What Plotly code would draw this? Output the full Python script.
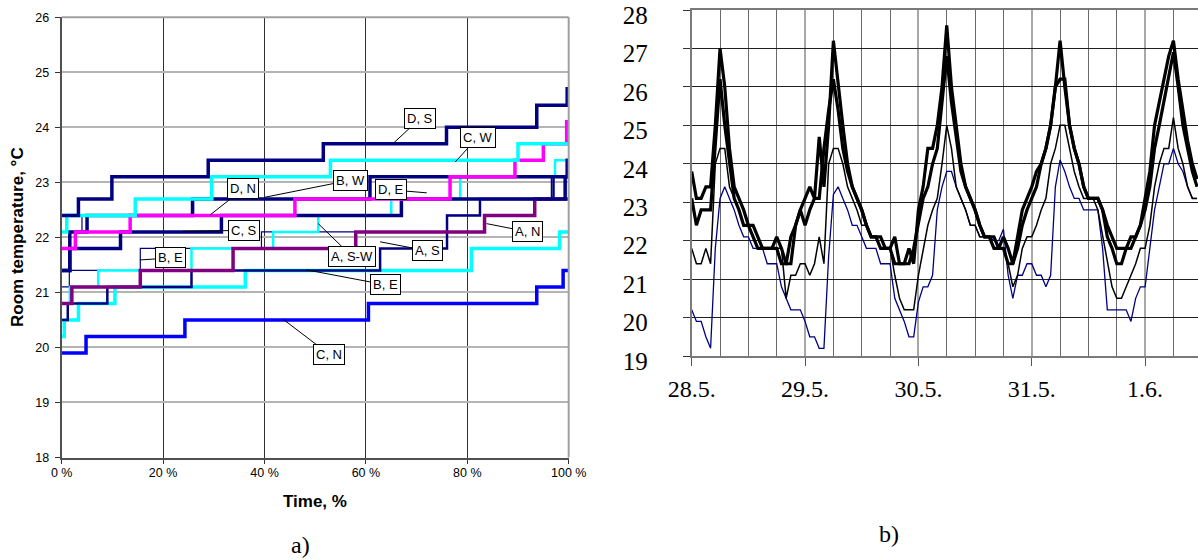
import plotly.graph_objects as go

W, H = 1198, 560

# ---------------- panel a) duration curves ----------------
pct_ticks = [0, 20, 40, 60, 80, 100]
pct_labels = ["0 %", "20 %", "40 %", "60 %", "80 %", "100 %"]
temp_ticks_a = [18, 19, 20, 21, 22, 23, 24, 25, 26]

DS_x = [0, 3.3, 9.9, 28.9, 51.6, 75.9, 93.7, 99.7, 100]
DS_y = [22.4, 22.7, 23.1, 23.4, 23.7, 24.0, 24.4, 24.7, 24.7]
CW_x = [0, 1.0, 14.5, 29.6, 53.0, 90.0, 100]
CW_y = [22.1, 22.4, 22.7, 23.1, 23.4, 23.7, 23.7]
DN_x = [0, 2.7, 13.5, 46.0, 76.6, 89.4, 95.0, 99.6, 100]
DN_y = [21.8, 22.1, 22.4, 22.7, 23.1, 23.4, 23.7, 24.1, 24.1]
DE_x = [0, 1.6, 5.0, 25.8, 60.8, 99.7, 100]
DE_y = [21.4, 22.1, 22.4, 22.7, 23.1, 23.4, 23.4]
CS_x = [0, 1.6, 11.6, 31.5, 67.0, 99.3, 100]
CS_y = [21.4, 21.8, 22.1, 22.4, 22.7, 23.1, 23.1]
AN_x = [0, 2.0, 15.5, 33.8, 58.0, 83.4, 93.3, 100]
AN_y = [20.8, 21.1, 21.4, 21.8, 22.1, 22.4, 22.7, 22.7]
BE2_x = [0, 0.5, 3.3, 10.5, 36.2, 80.8, 98.2, 100]
BE2_y = [20.2, 20.5, 20.8, 21.1, 21.4, 21.8, 22.1, 22.1]
ASW_x = [0, 1.6, 7.2, 25.6, 41.7, 50.6, 65.0, 78.6, 97.3, 100]
ASW_y = [20.8, 21.1, 21.4, 21.8, 22.1, 22.4, 22.7, 23.1, 23.4, 23.4]
CN_x = [0, 4.8, 24.3, 60.5, 93.7, 98.9, 100]
CN_y = [19.9, 20.2, 20.5, 20.8, 21.1, 21.4, 21.4]
BE1_x = [0, 1.5, 15.5, 39.4, 76.0, 82.5, 96.6, 100]
BE1_y = [21.1, 21.4, 21.8, 22.1, 22.4, 22.7, 23.1, 23.1]
AS_x = [0, 1.2, 9.0, 25.6, 62.8, 76.0, 82.5, 97.0, 100]
AS_y = [20.5, 20.8, 21.1, 21.4, 21.8, 22.4, 22.7, 23.1, 23.1]
BW_x = [0, 1.5, 4.0, 26.0, 61.0, 96.6, 100]
BW_y = [22.1, 22.1, 22.4, 22.7, 22.7, 23.1, 23.1]

series_a = [
    ("C, N", CN_x, CN_y, "#0000FF", 3.5),
    ("B, E", BE2_x, BE2_y, "#00FFFF", 3.5),
    ("A, S", AS_x, AS_y, "#000080", 2.5),
    ("B, E", BE1_x, BE1_y, "#000080", 1.2),
    ("A, S-W", ASW_x, ASW_y, "#00FFFF", 2.5),
    ("A, N", AN_x, AN_y, "#800080", 3.5),
    ("B, W", BW_x, BW_y, "#000080", 1.2),
    ("C, S", CS_x, CS_y, "#000080", 3.5),
    ("D, E", DE_x, DE_y, "#000080", 3.5),
    ("D, N", DN_x, DN_y, "#FF00FF", 3.5),
    ("C, W", CW_x, CW_y, "#00FFFF", 3.5),
    ("D, S", DS_x, DS_y, "#000080", 3.5),
]

# callouts: label, pointed position (% , degC), label offset (px)
callouts = [
    ("D, S", 65.4, 23.71, 27, -25),
    ("C, W", 77.6, 23.37, 23, -25),
    ("D, N", 29.3, 22.41, 33, -26),
    ("B, W", 40.1, 22.73, 85, -17),
    ("D, E", 72.0, 22.81, -36, -3),
    ("C, S", 23.9, 22.11, 61, -1),
    ("A, N", 83.8, 22.25, 41, 8),
    ("A, S", 62.8, 21.92, 47, 9),
    ("A, S-W", 50.6, 22.25, 34, 33),
    ("B, E", 15.4, 21.59, 31, -2),
    ("B, E", 48.3, 21.41, 79, 15),
    ("C, N", 43.7, 20.51, 46, 35),
]

# ---------------- panel b) time series ----------------
day_ticks = [0, 24, 48, 72, 96]
day_labels = ["28.5.", "29.5.", "30.5.", "31.5.", "1.6."]
temp_ticks_b = [19, 20, 21, 22, 23, 24, 25, 26, 27, 28]
hours = list(range(108))

thick_1 = [23.8, 23.1, 23.1, 23.4, 23.4, 25.0, 27.0, 26.0, 24.4, 23.4,
           23.1, 22.8, 22.4, 22.4, 22.1, 21.8, 21.8, 21.8, 22.1, 21.8,
           21.4, 21.4, 22.4, 22.8, 23.1, 23.4, 23.1, 24.7, 23.4, 25.0,
           27.2, 26.0, 25.0, 24.0, 23.4, 23.1, 22.8, 22.4, 22.1, 22.1,
           22.1, 21.8, 21.8, 22.1, 21.4, 21.4, 21.8, 21.4, 22.8, 23.4,
           24.4, 24.4, 25.0, 26.0, 27.6, 26.0, 25.0, 24.0, 23.4, 23.1,
           22.8, 22.4, 22.1, 22.1, 21.8, 21.8, 22.1, 21.8, 21.4, 22.1,
           22.8, 23.1, 23.4, 23.8, 24.0, 24.4, 25.0, 26.0, 27.2, 26.0,
           25.0, 24.4, 24.0, 23.4, 23.1, 23.1, 23.1, 22.8, 22.1, 21.8,
           21.4, 21.4, 21.8, 21.8, 22.1, 22.4, 23.1, 23.8, 25.0, 25.6,
           26.2, 26.8, 27.2, 26.2, 25.4, 24.6, 24.0, 23.6]
thick_2 = [23.1, 22.4, 22.8, 22.8, 22.8, 24.5, 26.2, 25.0, 24.0, 23.1,
           22.8, 22.4, 22.4, 22.1, 21.8, 21.8, 21.8, 21.8, 21.8, 21.4,
           21.4, 22.1, 22.4, 22.8, 22.4, 22.8, 23.1, 23.1, 24.4, 25.4,
           26.2, 25.4, 24.4, 23.8, 23.4, 23.1, 22.8, 22.4, 22.1, 22.1,
           21.8, 21.8, 21.8, 21.4, 21.4, 21.4, 21.4, 21.8, 22.4, 23.1,
           23.4, 24.0, 24.4, 25.6, 26.8, 25.6, 24.7, 23.8, 23.4, 23.1,
           22.8, 22.4, 22.1, 22.1, 22.1, 21.8, 21.8, 21.4, 21.4, 21.8,
           22.4, 22.8, 23.1, 23.4, 24.0, 24.4, 25.0, 26.0, 26.2, 26.2,
           25.0, 24.4, 24.0, 23.4, 23.1, 23.1, 23.1, 22.8, 22.4, 22.1,
           21.8, 21.8, 21.8, 22.1, 22.1, 22.4, 22.8, 23.4, 24.4, 25.0,
           25.6, 26.2, 26.9, 26.0, 25.0, 24.4, 23.8, 23.4]
thin_black = [21.8, 21.4, 21.4, 21.8, 21.4, 24.0, 24.4, 24.4, 23.4, 23.1,
              22.8, 22.4, 22.4, 22.1, 21.8, 21.8, 21.8, 21.8, 21.8, 21.8,
              20.5, 21.1, 21.1, 21.4, 21.4, 21.1, 21.4, 22.1, 21.4, 24.0,
              24.4, 24.4, 24.0, 23.4, 23.1, 22.8, 22.4, 22.4, 22.1, 22.1,
              21.8, 21.8, 21.8, 21.1, 20.5, 20.2, 20.2, 20.2, 21.1, 21.8,
              22.4, 22.8, 23.1, 24.0, 25.0, 24.4, 23.4, 23.1, 22.8, 22.4,
              22.4, 22.1, 22.1, 22.1, 21.8, 21.8, 21.8, 21.4, 20.8, 21.1,
              21.8, 22.1, 22.1, 22.4, 22.8, 23.1, 24.0, 24.4, 25.0, 25.0,
              24.4, 23.8, 23.4, 23.1, 23.1, 23.1, 22.8, 22.1, 21.4, 20.8,
              20.5, 20.5, 20.8, 21.1, 21.4, 21.8, 21.8, 22.4, 23.4, 24.0,
              24.4, 24.4, 25.2, 24.4, 24.0, 23.4, 23.1, 23.1]
thin_blue = [20.2, 19.9, 19.9, 19.5, 19.2, 21.8, 23.1, 23.4, 23.1, 22.8,
             22.4, 22.1, 22.1, 21.8, 21.8, 21.8, 21.4, 21.4, 21.4, 20.8,
             20.5, 20.2, 20.2, 20.2, 19.9, 19.5, 19.5, 19.2, 19.2, 21.6,
             23.2, 23.4, 23.1, 22.8, 22.4, 22.4, 22.1, 21.8, 21.8, 21.8,
             21.4, 21.4, 21.4, 20.5, 20.2, 19.9, 19.5, 19.5, 20.4, 20.8,
             20.8, 21.1, 22.8, 23.4, 23.8, 23.8, 23.4, 23.1, 22.8, 22.4,
             22.4, 22.1, 22.1, 22.1, 22.0, 22.0, 22.3, 21.1, 20.5, 21.1,
             21.1, 21.4, 21.4, 21.1, 21.1, 20.8, 21.1, 23.4, 24.1, 23.8,
             23.4, 23.1, 23.1, 22.8, 22.8, 22.8, 22.8, 21.8, 20.2, 20.2,
             20.2, 20.2, 20.2, 19.9, 20.5, 20.8, 20.8, 21.8, 22.8, 23.4,
             24.0, 24.0, 24.4, 24.0, 23.8, 23.4, 23.1, 23.1]

series_b = [
    (thin_blue, "#000080", 1.3),
    (thin_black, "#000000", 1.5),
    (thick_2, "#000000", 3.2),
    (thick_1, "#000000", 3.2),
]

fig = go.Figure()

for name, xs, ys, col, w in series_a:
    fig.add_trace(go.Scatter(x=xs, y=ys, mode="lines", name=name,
                             line=dict(color=col, width=w, shape="hv"),
                             xaxis="x", yaxis="y", showlegend=False,
                             hoverinfo="skip"))

for ys, col, w in series_b:
    fig.add_trace(go.Scatter(x=hours, y=ys, mode="lines",
                             line=dict(color=col, width=w),
                             xaxis="x2", yaxis="y2", showlegend=False,
                             hoverinfo="skip"))

sans = "Liberation Sans, Arial, sans-serif"
serif = "Liberation Serif, Times New Roman, serif"

annotations = []
for text, px, py, ax, ay in callouts:
    annotations.append(dict(
        x=px, y=py, xref="x", yref="y", text=text, showarrow=True,
        ax=ax, ay=ay, arrowhead=0, arrowwidth=1, arrowcolor="#000000",
        font=dict(family=sans, size=13, color="#000000"),
        bgcolor="#FFFFFF", bordercolor="#000000", borderwidth=1, borderpad=2,
        standoff=0, startstandoff=0))

annotations += [
    dict(text="<b>Room temperature, °C</b>", textangle=-90,
         x=17 / W, y=1 - 237 / H, xref="paper", yref="paper",
         xanchor="center", yanchor="middle",
         showarrow=False, font=dict(family=sans, size=17, color="#000000")),
    dict(text="<b>Time, %</b>", x=315 / W, y=1 - 501 / H,
         xref="paper", yref="paper", xanchor="center", yanchor="middle",
         showarrow=False, font=dict(family=sans, size=17, color="#000000")),
    dict(text="a)", x=300 / W, y=1 - 545 / H, xref="paper", yref="paper",
         xanchor="center", yanchor="middle",
         showarrow=False, font=dict(family=serif, size=24, color="#000000")),
    dict(text="b)", x=889 / W, y=1 - 534 / H, xref="paper", yref="paper",
         xanchor="center", yanchor="middle",
         showarrow=False, font=dict(family=serif, size=24, color="#000000")),
]

shapes = [
    # light grey top and right frame of panel a)
    dict(type="line", xref="x domain", yref="y domain", x0=0, x1=1, y0=1, y1=1,
         line=dict(color="#A0A0A0", width=2)),
    dict(type="line", xref="x domain", yref="y domain", x0=1, x1=1, y0=0, y1=1,
         line=dict(color="#A0A0A0", width=2)),
]

fig.update_layout(
    template="none",
    width=W, height=H,
    margin=dict(l=0, r=0, t=0, b=0, autoexpand=False),
    paper_bgcolor="#FFFFFF", plot_bgcolor="#FFFFFF",
    showlegend=False, hovermode=False,
    annotations=annotations, shapes=shapes,
    xaxis=dict(domain=[61.7 / W, 568.7 / W], range=[0, 100], automargin=False,
               tickmode="array", tickvals=pct_ticks, ticktext=pct_labels,
               showgrid=True, gridcolor="#303030", gridwidth=1,
               showline=True, linecolor="#505050", linewidth=2,
               ticks="outside", ticklen=4, tickcolor="#333333",
               tickfont=dict(family=sans, size=12.5, color="#000000"),
               ticklabelstandoff=-2, ticklabeloverflow="allow",
               zeroline=False, anchor="y"),
    yaxis=dict(domain=[1 - 457.5 / H, 1 - 17.3 / H], range=[18, 26], automargin=False,
               tickmode="array", tickvals=temp_ticks_a,
               showgrid=True, gridcolor="#B4B4B4", gridwidth=2,
               showline=True, linecolor="#505050", linewidth=2,
               ticks="outside", ticklen=5, tickcolor="#333333",
               tickfont=dict(family=sans, size=12.5, color="#000000"),
               zeroline=False, anchor="x", ticklabelstandoff=3,
               ticklabeloverflow="allow"),
    xaxis2=dict(domain=[691.7 / W, 1.0], range=[0, 107.2], automargin=False,
                tickmode="array", tickvals=day_ticks, ticktext=day_labels,
                showgrid=True, gridcolor="#A8A8A8", gridwidth=2,
                minor=dict(dtick=6, tick0=0, showgrid=True,
                           gridcolor="#6A6A6A", gridwidth=1, ticks=""),
                showline=True, linecolor="#7A7A7A", linewidth=2, mirror=True,
                ticks="outside", ticklen=8, tickcolor="#555555",
                tickfont=dict(family=serif, size=24, color="#000000"),
                ticklabelstandoff=2, ticklabeloverflow="allow",
                zeroline=False, anchor="y2"),
    yaxis2=dict(domain=[1 - 356 / H, 1 - 10 / H], range=[19, 28], automargin=False,
                tickmode="array", tickvals=temp_ticks_b,
                showgrid=True, gridcolor="#202020", gridwidth=1,
                showline=True, linecolor="#7A7A7A", linewidth=2,
                ticks="outside", ticklen=7, tickcolor="#333333",
                tickfont=dict(family=serif, size=25, color="#000000"),
                ticklabelstandoff=30, ticklabelshift=5,
                ticklabeloverflow="allow",
                zeroline=False, anchor="x2"),
)

fig.write_html("out.html",
               config={"displayModeBar": False, "staticPlot": True},
               post_script="document.body.style.margin='0';"
                           "document.body.style.overflow='hidden';")
